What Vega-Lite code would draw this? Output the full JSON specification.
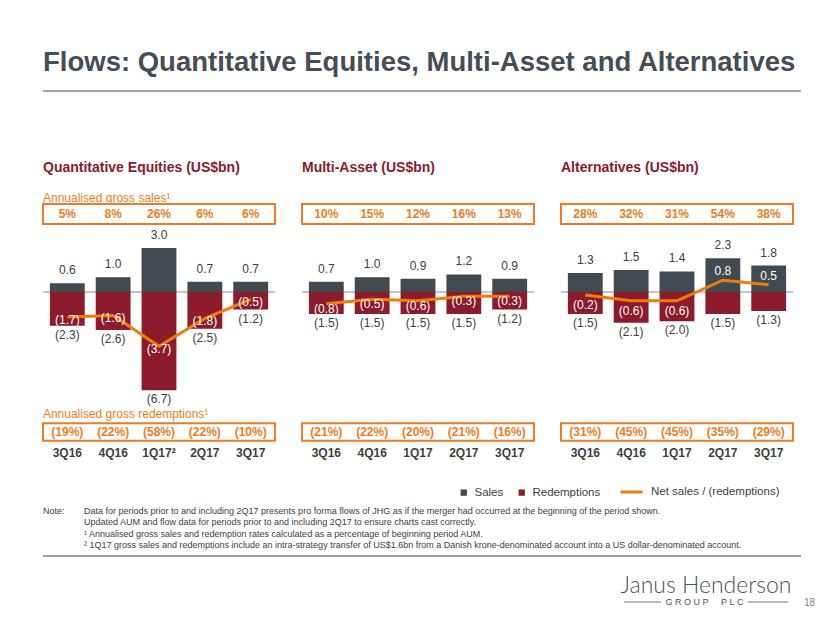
{
  "$schema": "https://vega.github.io/schema/vega-lite/v6.json",
  "padding": {"left": 42, "top": 48, "right": 0, "bottom": 0},
  "background": "white",
  "spacing": 8,
  "config": {
    "view": {"stroke": null},
    "font": "Liberation Sans",
    "title": {"anchor": "start", "frame": "group", "fontSize": 14, "fontWeight": "bold", "color": "#8B1A2B", "subtitleColor": "#ED7D22", "subtitleFontSize": 12, "subtitlePadding": 18, "offset": -1}
  },
  "datasets": {
    "qe": [
      {"q": "3Q16", "sales": 0.6, "red": -2.3, "net": -1.7, "sp": 0.05, "rp": -0.19},
      {"q": "4Q16", "sales": 1.0, "red": -2.6, "net": -1.6, "sp": 0.08, "rp": -0.22},
      {"q": "1Q17²", "sales": 3.0, "red": -6.7, "net": -3.7, "sp": 0.26, "rp": -0.58},
      {"q": "2Q17", "sales": 0.7, "red": -2.5, "net": -1.8, "sp": 0.06, "rp": -0.22},
      {"q": "3Q17", "sales": 0.7, "red": -1.2, "net": -0.5, "sp": 0.06, "rp": -0.10}
    ],
    "ma": [
      {"q": "3Q16", "sales": 0.7, "red": -1.5, "net": -0.8, "sp": 0.10, "rp": -0.21},
      {"q": "4Q16", "sales": 1.0, "red": -1.5, "net": -0.5, "sp": 0.15, "rp": -0.22},
      {"q": "1Q17", "sales": 0.9, "red": -1.5, "net": -0.6, "sp": 0.12, "rp": -0.20},
      {"q": "2Q17", "sales": 1.2, "red": -1.5, "net": -0.3, "sp": 0.16, "rp": -0.21},
      {"q": "3Q17", "sales": 0.9, "red": -1.2, "net": -0.3, "sp": 0.13, "rp": -0.16}
    ],
    "alt": [
      {"q": "3Q16", "sales": 1.3, "red": -1.5, "net": -0.2, "sp": 0.28, "rp": -0.31},
      {"q": "4Q16", "sales": 1.5, "red": -2.1, "net": -0.6, "sp": 0.32, "rp": -0.45},
      {"q": "1Q17", "sales": 1.4, "red": -2.0, "net": -0.6, "sp": 0.31, "rp": -0.45},
      {"q": "2Q17", "sales": 2.3, "red": -1.5, "net": 0.8, "sp": 0.54, "rp": -0.35},
      {"q": "3Q17", "sales": 1.8, "red": -1.3, "net": 0.5, "sp": 0.38, "rp": -0.29}
    ]
  },
  "vconcat": [
    {
      "width": 758, "height": 61.5,
      "title": {"text": "Flows: Quantitative Equities, Multi-Asset and Alternatives", "fontSize": 27.5, "color": "#464D55", "offset": 14},
      "data": {"values": [{}]},
      "mark": {"type": "rule", "color": "#A6A6A6", "strokeWidth": 2},
      "encoding": {"y": {"datum": 1, "type": "quantitative", "scale": {"domain": [0, 1], "nice": false}, "axis": null}}
    },
    {
      "spacing": 25,
      "hconcat": [
        {
          "width": 232, "height": 239,
          "data": {"name": "qe"},
          "title": {"text": "Quantitative Equities (US$bn)", "subtitle": "Annualised gross sales¹"},
          "layer": [
            {"data": {"values": [{}]}, "mark": {"type": "rect", "filled": false, "color": "#ED7D22", "strokeWidth": 2},
             "encoding": {"y": {"datum": 6.0, "type": "quantitative", "scale": {"domain": [-10.3, 6.0], "nice": false, "zero": false}, "axis": null}, "y2": {"datum": 4.63}}},
            {"data": {"values": [{}]}, "mark": {"type": "rect", "filled": false, "color": "#ED7D22", "strokeWidth": 2},
             "encoding": {"y": {"datum": -8.95, "type": "quantitative"}, "y2": {"datum": -10.14}}},
            {"data": {"values": [{}]}, "mark": {"type": "rule", "color": "#8C8C8C"},
             "encoding": {"y": {"datum": 0, "type": "quantitative"}}},
            {"mark": {"type": "bar"},
             "encoding": {
               "x": {"field": "q", "type": "nominal", "sort": null, "scale": {"paddingInner": 0.24, "paddingOuter": 0.15}, "axis": {"title": null, "domain": false, "ticks": false, "labelAngle": 0, "labelFontSize": 12, "labelFontWeight": "bold", "labelColor": "#404040", "labelPadding": 4}},
               "y": {"field": "sales", "type": "quantitative"}, "y2": {"datum": 0},
               "color": {"datum": "Sales", "type": "nominal", "scale": {"domain": ["Sales", "Redemptions"], "range": ["#424A51", "#8C1B2B"]},
                         "legend": {"orient": "none", "legendX": 415, "legendY": 395.5, "direction": "horizontal", "title": null, "symbolType": "square", "symbolSize": 40, "symbolStrokeWidth": 0, "labelFontSize": 11.5, "labelColor": "#404040", "columnPadding": 12, "labelOffset": 5}}}},
            {"mark": {"type": "bar"},
             "encoding": {
               "x": {"field": "q", "type": "nominal", "sort": null},
               "y": {"field": "red", "type": "quantitative"}, "y2": {"datum": 0},
               "color": {"datum": "Redemptions", "type": "nominal"}}},
            {"mark": {"type": "line", "strokeWidth": 3},
             "encoding": {
               "x": {"field": "q", "type": "nominal", "sort": null},
               "y": {"field": "net", "type": "quantitative"},
               "stroke": {"datum": "Net sales / (redemptions)", "type": "nominal", "scale": {"range": ["#F07D0A"]},
                          "legend": {"orient": "none", "legendX": 576, "legendY": 388.5, "title": null, "symbolType": "stroke", "symbolSize": 484, "symbolStrokeWidth": 3, "labelFontSize": 11.5, "labelColor": "#404040", "labelOffset": 7}}}},
            {"mark": {"type": "text", "baseline": "alphabetic", "dy": -9, "fontSize": 12, "color": "#404040"},
             "encoding": {"x": {"field": "q", "type": "nominal", "sort": null}, "y": {"field": "sales", "type": "quantitative"}, "text": {"field": "sales", "type": "quantitative", "format": ".1f"}}},
            {"mark": {"type": "text", "baseline": "top", "dy": 4, "fontSize": 12, "color": "#404040"},
             "encoding": {"x": {"field": "q", "type": "nominal", "sort": null}, "y": {"field": "red", "type": "quantitative"}, "text": {"field": "red", "type": "quantitative", "format": "(.1f"}}},
            {"transform": [{"filter": "datum.net < 0"}],
             "mark": {"type": "text", "baseline": "middle", "dy": 3, "fontSize": 12, "color": "white"},
             "encoding": {"x": {"field": "q", "type": "nominal", "sort": null}, "y": {"field": "net", "type": "quantitative"}, "text": {"field": "net", "type": "quantitative", "format": "(.1f"}}},
            {"mark": {"type": "text", "baseline": "middle", "fontSize": 12, "fontWeight": "bold", "color": "#ED7D22"},
             "encoding": {"x": {"field": "q", "type": "nominal", "sort": null}, "y": {"datum": 5.3, "type": "quantitative"}, "text": {"field": "sp", "type": "quantitative", "format": ".0%"}}},
            {"mark": {"type": "text", "baseline": "middle", "fontSize": 12, "fontWeight": "bold", "color": "#ED7D22"},
             "encoding": {"x": {"field": "q", "type": "nominal", "sort": null}, "y": {"datum": -9.55, "type": "quantitative"}, "text": {"field": "rp", "type": "quantitative", "format": "(.0%"}}},
            {"data": {"values": [{}]},
             "mark": {"type": "text", "text": "Annualised gross redemptions¹", "align": "left", "baseline": "middle", "dx": -7, "fontSize": 12, "color": "#ED7D22"},
             "encoding": {"x": {"datum": "3Q16", "type": "nominal", "bandPosition": 0}, "y": {"datum": -8.33, "type": "quantitative"}}}
          ]
        },
        {
          "width": 232, "height": 239,
          "data": {"name": "ma"},
          "title": {"text": "Multi-Asset (US$bn)", "subtitle": " "},
          "layer": [
            {"data": {"values": [{}]}, "mark": {"type": "rect", "filled": false, "color": "#ED7D22", "strokeWidth": 2},
             "encoding": {"y": {"datum": 6.0, "type": "quantitative", "scale": {"domain": [-10.3, 6.0], "nice": false, "zero": false}, "axis": null}, "y2": {"datum": 4.63}}},
            {"data": {"values": [{}]}, "mark": {"type": "rect", "filled": false, "color": "#ED7D22", "strokeWidth": 2},
             "encoding": {"y": {"datum": -8.95, "type": "quantitative"}, "y2": {"datum": -10.14}}},
            {"data": {"values": [{}]}, "mark": {"type": "rule", "color": "#8C8C8C"},
             "encoding": {"y": {"datum": 0, "type": "quantitative"}}},
            {"mark": {"type": "bar"},
             "encoding": {
               "x": {"field": "q", "type": "nominal", "sort": null, "scale": {"paddingInner": 0.24, "paddingOuter": 0.15}, "axis": {"title": null, "domain": false, "ticks": false, "labelAngle": 0, "labelFontSize": 12, "labelFontWeight": "bold", "labelColor": "#404040", "labelPadding": 4}},
               "y": {"field": "sales", "type": "quantitative"}, "y2": {"datum": 0},
               "color": {"datum": "Sales", "type": "nominal", "legend": null}}},
            {"mark": {"type": "bar"},
             "encoding": {
               "x": {"field": "q", "type": "nominal", "sort": null},
               "y": {"field": "red", "type": "quantitative"}, "y2": {"datum": 0},
               "color": {"datum": "Redemptions", "type": "nominal", "legend": null}}},
            {"mark": {"type": "line", "strokeWidth": 3},
             "encoding": {
               "x": {"field": "q", "type": "nominal", "sort": null},
               "y": {"field": "net", "type": "quantitative"},
               "stroke": {"datum": "Net sales / (redemptions)", "type": "nominal", "legend": null}}},
            {"mark": {"type": "text", "baseline": "alphabetic", "dy": -9, "fontSize": 12, "color": "#404040"},
             "encoding": {"x": {"field": "q", "type": "nominal", "sort": null}, "y": {"field": "sales", "type": "quantitative"}, "text": {"field": "sales", "type": "quantitative", "format": ".1f"}}},
            {"mark": {"type": "text", "baseline": "top", "dy": 4, "fontSize": 12, "color": "#404040"},
             "encoding": {"x": {"field": "q", "type": "nominal", "sort": null}, "y": {"field": "red", "type": "quantitative"}, "text": {"field": "red", "type": "quantitative", "format": "(.1f"}}},
            {"transform": [{"filter": "datum.net < 0"}],
             "mark": {"type": "text", "baseline": "middle", "dy": 5, "fontSize": 12, "color": "white"},
             "encoding": {"x": {"field": "q", "type": "nominal", "sort": null}, "y": {"field": "net", "type": "quantitative"}, "text": {"field": "net", "type": "quantitative", "format": "(.1f"}}},
            {"mark": {"type": "text", "baseline": "middle", "fontSize": 12, "fontWeight": "bold", "color": "#ED7D22"},
             "encoding": {"x": {"field": "q", "type": "nominal", "sort": null}, "y": {"datum": 5.3, "type": "quantitative"}, "text": {"field": "sp", "type": "quantitative", "format": ".0%"}}},
            {"mark": {"type": "text", "baseline": "middle", "fontSize": 12, "fontWeight": "bold", "color": "#ED7D22"},
             "encoding": {"x": {"field": "q", "type": "nominal", "sort": null}, "y": {"datum": -9.55, "type": "quantitative"}, "text": {"field": "rp", "type": "quantitative", "format": "(.0%"}}}
          ]
        },
        {
          "width": 232, "height": 239,
          "data": {"name": "alt"},
          "title": {"text": "Alternatives (US$bn)", "subtitle": " "},
          "layer": [
            {"data": {"values": [{}]}, "mark": {"type": "rect", "filled": false, "color": "#ED7D22", "strokeWidth": 2},
             "encoding": {"y": {"datum": 6.0, "type": "quantitative", "scale": {"domain": [-10.3, 6.0], "nice": false, "zero": false}, "axis": null}, "y2": {"datum": 4.63}}},
            {"data": {"values": [{}]}, "mark": {"type": "rect", "filled": false, "color": "#ED7D22", "strokeWidth": 2},
             "encoding": {"y": {"datum": -8.95, "type": "quantitative"}, "y2": {"datum": -10.14}}},
            {"data": {"values": [{}]}, "mark": {"type": "rule", "color": "#8C8C8C"},
             "encoding": {"y": {"datum": 0, "type": "quantitative"}}},
            {"mark": {"type": "bar"},
             "encoding": {
               "x": {"field": "q", "type": "nominal", "sort": null, "scale": {"paddingInner": 0.24, "paddingOuter": 0.15}, "axis": {"title": null, "domain": false, "ticks": false, "labelAngle": 0, "labelFontSize": 12, "labelFontWeight": "bold", "labelColor": "#404040", "labelPadding": 4}},
               "y": {"field": "sales", "type": "quantitative"}, "y2": {"datum": 0},
               "color": {"datum": "Sales", "type": "nominal", "legend": null}}},
            {"mark": {"type": "bar"},
             "encoding": {
               "x": {"field": "q", "type": "nominal", "sort": null},
               "y": {"field": "red", "type": "quantitative"}, "y2": {"datum": 0},
               "color": {"datum": "Redemptions", "type": "nominal", "legend": null}}},
            {"mark": {"type": "line", "strokeWidth": 3},
             "encoding": {
               "x": {"field": "q", "type": "nominal", "sort": null},
               "y": {"field": "net", "type": "quantitative"},
               "stroke": {"datum": "Net sales / (redemptions)", "type": "nominal", "legend": null}}},
            {"mark": {"type": "text", "baseline": "alphabetic", "dy": -9, "fontSize": 12, "color": "#404040"},
             "encoding": {"x": {"field": "q", "type": "nominal", "sort": null}, "y": {"field": "sales", "type": "quantitative"}, "text": {"field": "sales", "type": "quantitative", "format": ".1f"}}},
            {"mark": {"type": "text", "baseline": "top", "dy": 4, "fontSize": 12, "color": "#404040"},
             "encoding": {"x": {"field": "q", "type": "nominal", "sort": null}, "y": {"field": "red", "type": "quantitative"}, "text": {"field": "red", "type": "quantitative", "format": "(.1f"}}},
            {"transform": [{"filter": "datum.net < 0"}],
             "mark": {"type": "text", "baseline": "middle", "dy": 10, "fontSize": 12, "color": "white"},
             "encoding": {"x": {"field": "q", "type": "nominal", "sort": null}, "y": {"field": "net", "type": "quantitative"}, "text": {"field": "net", "type": "quantitative", "format": "(.1f"}}},
            {"transform": [{"filter": "datum.net >= 0"}],
             "mark": {"type": "text", "baseline": "middle", "dy": -9, "fontSize": 12, "color": "white"},
             "encoding": {"x": {"field": "q", "type": "nominal", "sort": null}, "y": {"field": "net", "type": "quantitative"}, "text": {"field": "net", "type": "quantitative", "format": "(.1f"}}},
            {"mark": {"type": "text", "baseline": "middle", "fontSize": 12, "fontWeight": "bold", "color": "#ED7D22"},
             "encoding": {"x": {"field": "q", "type": "nominal", "sort": null}, "y": {"datum": 5.3, "type": "quantitative"}, "text": {"field": "sp", "type": "quantitative", "format": ".0%"}}},
            {"mark": {"type": "text", "baseline": "middle", "fontSize": 12, "fontWeight": "bold", "color": "#ED7D22"},
             "encoding": {"x": {"field": "q", "type": "nominal", "sort": null}, "y": {"datum": -9.55, "type": "quantitative"}, "text": {"field": "rp", "type": "quantitative", "format": "(.0%"}}}
          ]
        }
      ]
    },
    {
      "width": 770, "height": 140,
      "data": {"values": [{}]},
      "layer": [
        {"mark": {"type": "text", "text": "Note:", "align": "left", "baseline": "top", "fontSize": 9, "color": "#404040"},
         "encoding": {"x": {"datum": 0, "type": "quantitative", "scale": {"domain": [0, 770], "nice": false, "zero": false}, "axis": null},
                      "y": {"datum": 40.5, "type": "quantitative", "scale": {"domain": [0, 140], "reverse": true, "nice": false, "zero": false}, "axis": null}}},
        {"mark": {"type": "text", "text": ["Data for periods prior to and including 2Q17 presents pro forma flows of JHG as if the merger had occurred at the beginning of the period shown.", "Updated AUM and flow data for periods prior to and including 2Q17 to ensure charts cast correctly.", "¹ Annualised gross sales and redemption rates calculated as a percentage of beginning period AUM.", "² 1Q17 gross sales and redemptions include an intra-strategy transfer of US$1.6bn from a Danish krone-denominated account into a US dollar-denominated account."], "lineHeight": 11.5, "align": "left", "baseline": "top", "fontSize": 9, "color": "#404040"},
         "encoding": {"x": {"datum": 41, "type": "quantitative"}, "y": {"datum": 40.5, "type": "quantitative"}}},
        {"mark": {"type": "rule", "color": "#7F7F7F", "strokeWidth": 1.5},
         "encoding": {"x": {"datum": 0, "type": "quantitative"}, "x2": {"datum": 758}, "y": {"datum": 90, "type": "quantitative"}}},
        {"mark": {"type": "text", "text": "Janus Henderson", "font": "Lato", "fontWeight": 300, "fontSize": 23, "color": "#4D5258", "align": "center", "baseline": "alphabetic"},
         "encoding": {"x": {"datum": 663, "type": "quantitative"}, "y": {"datum": 127, "type": "quantitative"}}},
        {"mark": {"type": "text", "text": "G\u00a0R\u00a0O\u00a0U\u00a0P\u00a0\u00a0\u00a0\u00a0\u00a0P\u00a0L\u00a0C", "fontSize": 9, "color": "#4D5258", "align": "center", "baseline": "middle"},
         "encoding": {"x": {"datum": 661.5, "type": "quantitative"}, "y": {"datum": 136, "type": "quantitative"}}},
        {"mark": {"type": "rule", "color": "#4D5258", "strokeWidth": 0.8},
         "encoding": {"x": {"datum": 581, "type": "quantitative"}, "x2": {"datum": 618}, "y": {"datum": 136, "type": "quantitative"}}},
        {"mark": {"type": "rule", "color": "#4D5258", "strokeWidth": 0.8},
         "encoding": {"x": {"datum": 705, "type": "quantitative"}, "x2": {"datum": 745}, "y": {"datum": 136, "type": "quantitative"}}},
        {"mark": {"type": "text", "text": "18", "fontSize": 10, "color": "#7F7F7F", "align": "left", "baseline": "middle"},
         "encoding": {"x": {"datum": 761, "type": "quantitative"}, "y": {"datum": 137, "type": "quantitative"}}}
      ]
    }
  ]
}
